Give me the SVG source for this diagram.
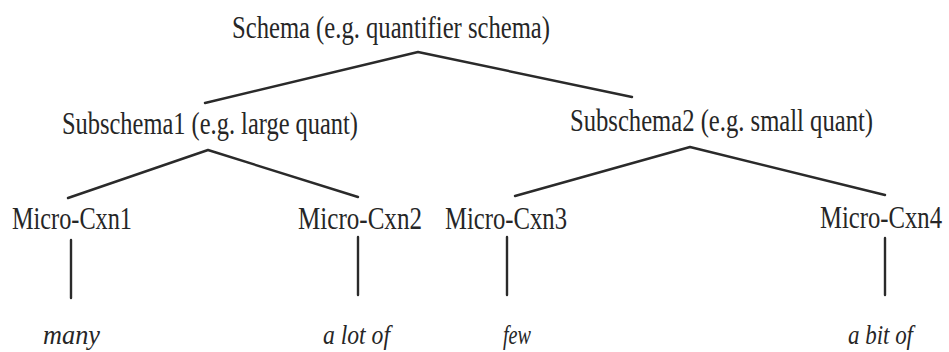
<svg xmlns="http://www.w3.org/2000/svg" width="949" height="352" viewBox="0 0 949 352">
<style>
.t{font-family:"Liberation Serif","DejaVu Serif",serif;font-size:31px;fill:#262626}
.w{font-family:"Liberation Serif","DejaVu Serif",serif;font-size:28px;font-style:italic;fill:#262626}
.c{stroke:#2a2a2a;stroke-width:2.4;fill:none;stroke-linecap:round;stroke-linejoin:round}
</style>
<rect width="949" height="352" fill="#ffffff"/>
<g id="connectors">
<polyline class="c" points="205,103 418,52 632,97"/>
<polyline class="c" points="68,198 208,150 358,197"/>
<polyline class="c" points="515,196 690,147 885,195"/>
<line class="c" x1="71" y1="240" x2="71" y2="298"/>
<line class="c" x1="358" y1="237" x2="358" y2="295"/>
<line class="c" x1="507" y1="237" x2="507" y2="295"/>
<line class="c" x1="885" y1="238" x2="885" y2="295"/>
</g>
<g id="schema"><text class="t" x="232" y="38" textLength="318" lengthAdjust="spacingAndGlyphs">Schema (e.g. quantifier schema)</text></g>
<g id="subschema1"><text class="t" x="62" y="134" textLength="296" lengthAdjust="spacingAndGlyphs">Subschema1 (e.g. large quant)</text></g>
<g id="subschema2"><text class="t" x="570" y="131" textLength="303" lengthAdjust="spacingAndGlyphs">Subschema2 (e.g. small quant)</text></g>
<g id="micro1"><text class="t" x="12" y="229" textLength="120" lengthAdjust="spacingAndGlyphs">Micro-Cxn1</text></g>
<g id="micro2"><text class="t" x="298" y="229" textLength="124" lengthAdjust="spacingAndGlyphs">Micro-Cxn2</text></g>
<g id="micro3"><text class="t" x="445" y="229" textLength="122" lengthAdjust="spacingAndGlyphs">Micro-Cxn3</text></g>
<g id="micro4"><text class="t" x="820" y="228" textLength="122" lengthAdjust="spacingAndGlyphs">Micro-Cxn4</text></g>
<g id="many"><text class="w" x="43" y="344" textLength="57" lengthAdjust="spacingAndGlyphs">many</text></g>
<g id="alotof"><text class="w" x="323" y="344" textLength="67" lengthAdjust="spacingAndGlyphs">a lot of</text></g>
<g id="few"><text class="w" x="503" y="344" textLength="28" lengthAdjust="spacingAndGlyphs">few</text></g>
<g id="abitof"><text class="w" x="848" y="344" textLength="65" lengthAdjust="spacingAndGlyphs">a bit of</text></g>
</svg>
